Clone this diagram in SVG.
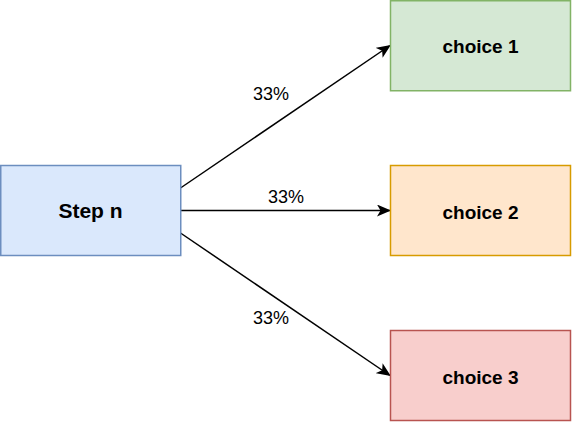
<svg xmlns="http://www.w3.org/2000/svg" width="572" height="422" viewBox="0 0 572 422">
<defs>
<style>
.box{stroke-width:1.5}
.lbl{font-family:"Liberation Sans",Arial,Helvetica,sans-serif;font-weight:bold;text-anchor:middle;fill:#000}
.pct{font-family:"Liberation Sans",Arial,Helvetica,sans-serif;font-size:18px;text-anchor:middle;fill:#000}
.edge{stroke:#000;stroke-width:1.5;fill:none;marker-end:url(#arr)}
</style>
<marker id="arr" markerUnits="userSpaceOnUse" viewBox="0 0 14 12" refX="13" refY="6" markerWidth="14" markerHeight="12" orient="auto">
<path d="M0,0 L14,6 L0,12 L3.5,6 Z" fill="#000"/>
</marker>
</defs>
<rect width="572" height="422" fill="#fff"/>
<g id="edges">
<path class="edge" d="M180.5,188 L390,45.5"/>
<path class="edge" d="M180.5,210.5 L390,210.5"/>
<path class="edge" d="M180.5,233 L390,375.5"/>
<text class="pct" x="271" y="100">33%</text>
<text class="pct" x="286" y="203">33%</text>
<text class="pct" x="271" y="324">33%</text>
</g>
<g id="step-n">
<rect class="box" x="0.75" y="165.5" width="180" height="90" fill="#dae8fc" stroke="#6c8ebf"/>
<text class="lbl" x="90.5" y="218" font-size="21">Step n</text>
</g>
<g id="choice-1">
<rect class="box" x="390.5" y="0.75" width="180" height="90" fill="#d5e8d4" stroke="#82b366"/>
<text class="lbl" x="480.5" y="53" font-size="19">choice 1</text>
</g>
<g id="choice-2">
<rect class="box" x="390.5" y="165.5" width="180" height="90" fill="#ffe6cc" stroke="#d79b00"/>
<text class="lbl" x="480.5" y="219" font-size="19">choice 2</text>
</g>
<g id="choice-3">
<rect class="box" x="390.5" y="330.5" width="180" height="90" fill="#f8cecc" stroke="#b85450"/>
<text class="lbl" x="480.5" y="384" font-size="19">choice 3</text>
</g>
</svg>
